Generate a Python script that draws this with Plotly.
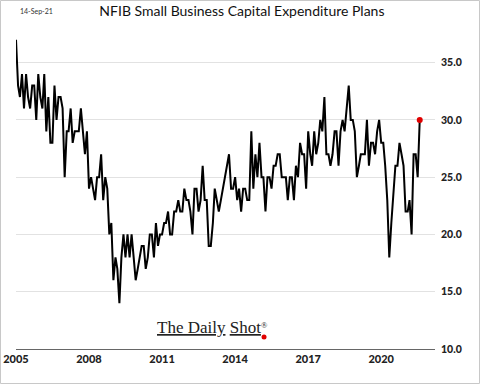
import pandas as pd
import plotly.graph_objects as go

# NFIB % planning capital outlays, monthly
v2005 = [37, 33, 32, 34, 31, 34, 32, 31, 33, 33, 30, 34]
v2006 = [32, 31, 34, 29, 32, 28, 28, 33, 30, 32, 32, 31]
v2007 = [25, 29, 29, 31, 28, 29, 29, 29, 31, 29, 27, 29]
v2008 = [24, 25, 24, 23, 25, 25, 27, 23, 25, 24, 20, 21]
v2009 = [16, 18, 17, 14, 18, 20, 18, 20, 18, 20, 18, 16]
v2010 = [17, 18, 19, 19, 17, 18, 20, 20, 18, 21, 19, 20]
v2011 = [20, 21, 21, 22, 20, 20, 22, 22, 23, 22, 22, 24]
v2012 = [23, 23, 22, 20, 24, 24, 22, 23, 26, 23, 23, 19]
v2013 = [19, 21, 24, 23, 22, 23, 24, 25, 26, 27, 24, 24]
v2014 = [25, 23, 24, 22, 24, 24, 23, 23, 29, 24, 27, 25]
v2015 = [28, 25, 25, 22, 25, 25, 24, 26, 26, 27, 27, 25]
v2016 = [25, 25, 23, 25, 25, 23, 26, 25, 28, 27, 27, 24]
v2017 = [29, 27, 26, 29, 27, 28, 30, 29, 32, 27, 27, 26]
v2018 = [27, 29, 29, 26, 29, 30, 29, 31, 33, 30, 30, 29]
v2019 = [25, 26, 27, 27, 27, 30, 26, 28, 28, 27, 29, 30]
v2020 = [28, 28, 26, 23, 18, 21, 24, 26, 26, 28, 27, 26]
v2021 = [22, 22, 23, 20, 27, 27, 25, 30]

values = (v2005 + v2006 + v2007 + v2008 + v2009 + v2010 + v2011 + v2012 + v2013
          + v2014 + v2015 + v2016 + v2017 + v2018 + v2019 + v2020 + v2021)
dates = pd.date_range("2005-01-01", periods=len(values), freq="MS")

title_text = "NFIB Small Business Capital Expenditure Plans"
date_text = "14-Sep-21"

fig = go.Figure()
fig.add_trace(go.Scatter(x=dates, y=values, mode="lines",
                         line=dict(color="#000000", width=2), hoverinfo="skip"))
fig.add_trace(go.Scatter(x=[dates[-1]], y=[values[-1]], mode="markers",
                         marker=dict(color="#e00000", size=6), hoverinfo="skip"))

fig.update_layout(
    width=480, height=384,
    margin=dict(l=16, r=45, t=34, b=35, autoexpand=False),
    paper_bgcolor="white", plot_bgcolor="white",
    showlegend=False,
    font=dict(family="Lato", color="#222222"),
    title=dict(text=title_text, x=0.504, xref="container", xanchor="center",
               y=1 - 11 / 384, yref="container", yanchor="middle",
               font=dict(family="Lato", size=14, color="#111111")),
    xaxis=dict(range=["2005-01-01", "2022-03-18"], tickformat="%Y",
               tick0="2005-01-01", dtick="M36", showgrid=False,
               showline=True, linecolor="#666666", linewidth=1,
               ticks="", automargin=False,
               tickfont=dict(size=11, color="#222222", family="Lato Black, Lato"),
               zeroline=False, fixedrange=True),
    yaxis=dict(range=[10, 37.5], dtick=5, side="right", tickformat=".1f",
               showgrid=True, gridcolor="#e2e2e2", gridwidth=1,
               zeroline=False, showline=False, ticks="", automargin=False,
               ticklabelstandoff=5, fixedrange=True,
               tickfont=dict(size=10.5, color="#222222", family="Lato Black, Lato")),
    annotations=[
        dict(text=date_text, xref="paper", yref="paper", x=0.004, y=1.073,
             xanchor="left", yanchor="middle", showarrow=False,
             font=dict(size=7, color="#333333", family="Lato")),
        dict(text="<u>The Daily</u> <u>Shot</u><span style='font-size:12px'><sup>®</sup></span>",
             xref="paper", yref="paper",
             x=0.470, y=0.068, xanchor="center", yanchor="middle", showarrow=False,
             font=dict(size=17, color="#222222", family="Liberation Serif")),
    ],
    shapes=[
        dict(type="circle", xref="paper", yref="paper", x0=0.586, x1=0.598,
             y0=0.030, y1=0.046, fillcolor="#e00000", line=dict(width=0)),
        dict(type="rect", xref="paper", yref="paper", x0=-0.0370, x1=1.1062,
             y0=-0.1095, y1=1.1063, line=dict(color="#c8c8c8", width=1),
             fillcolor="rgba(0,0,0,0)", layer="below"),
    ],
)

fig.write_html("out.html", config={"displayModeBar": False, "staticPlot": True},
               post_script="document.body.style.margin='0';document.body.style.overflow='hidden';")
